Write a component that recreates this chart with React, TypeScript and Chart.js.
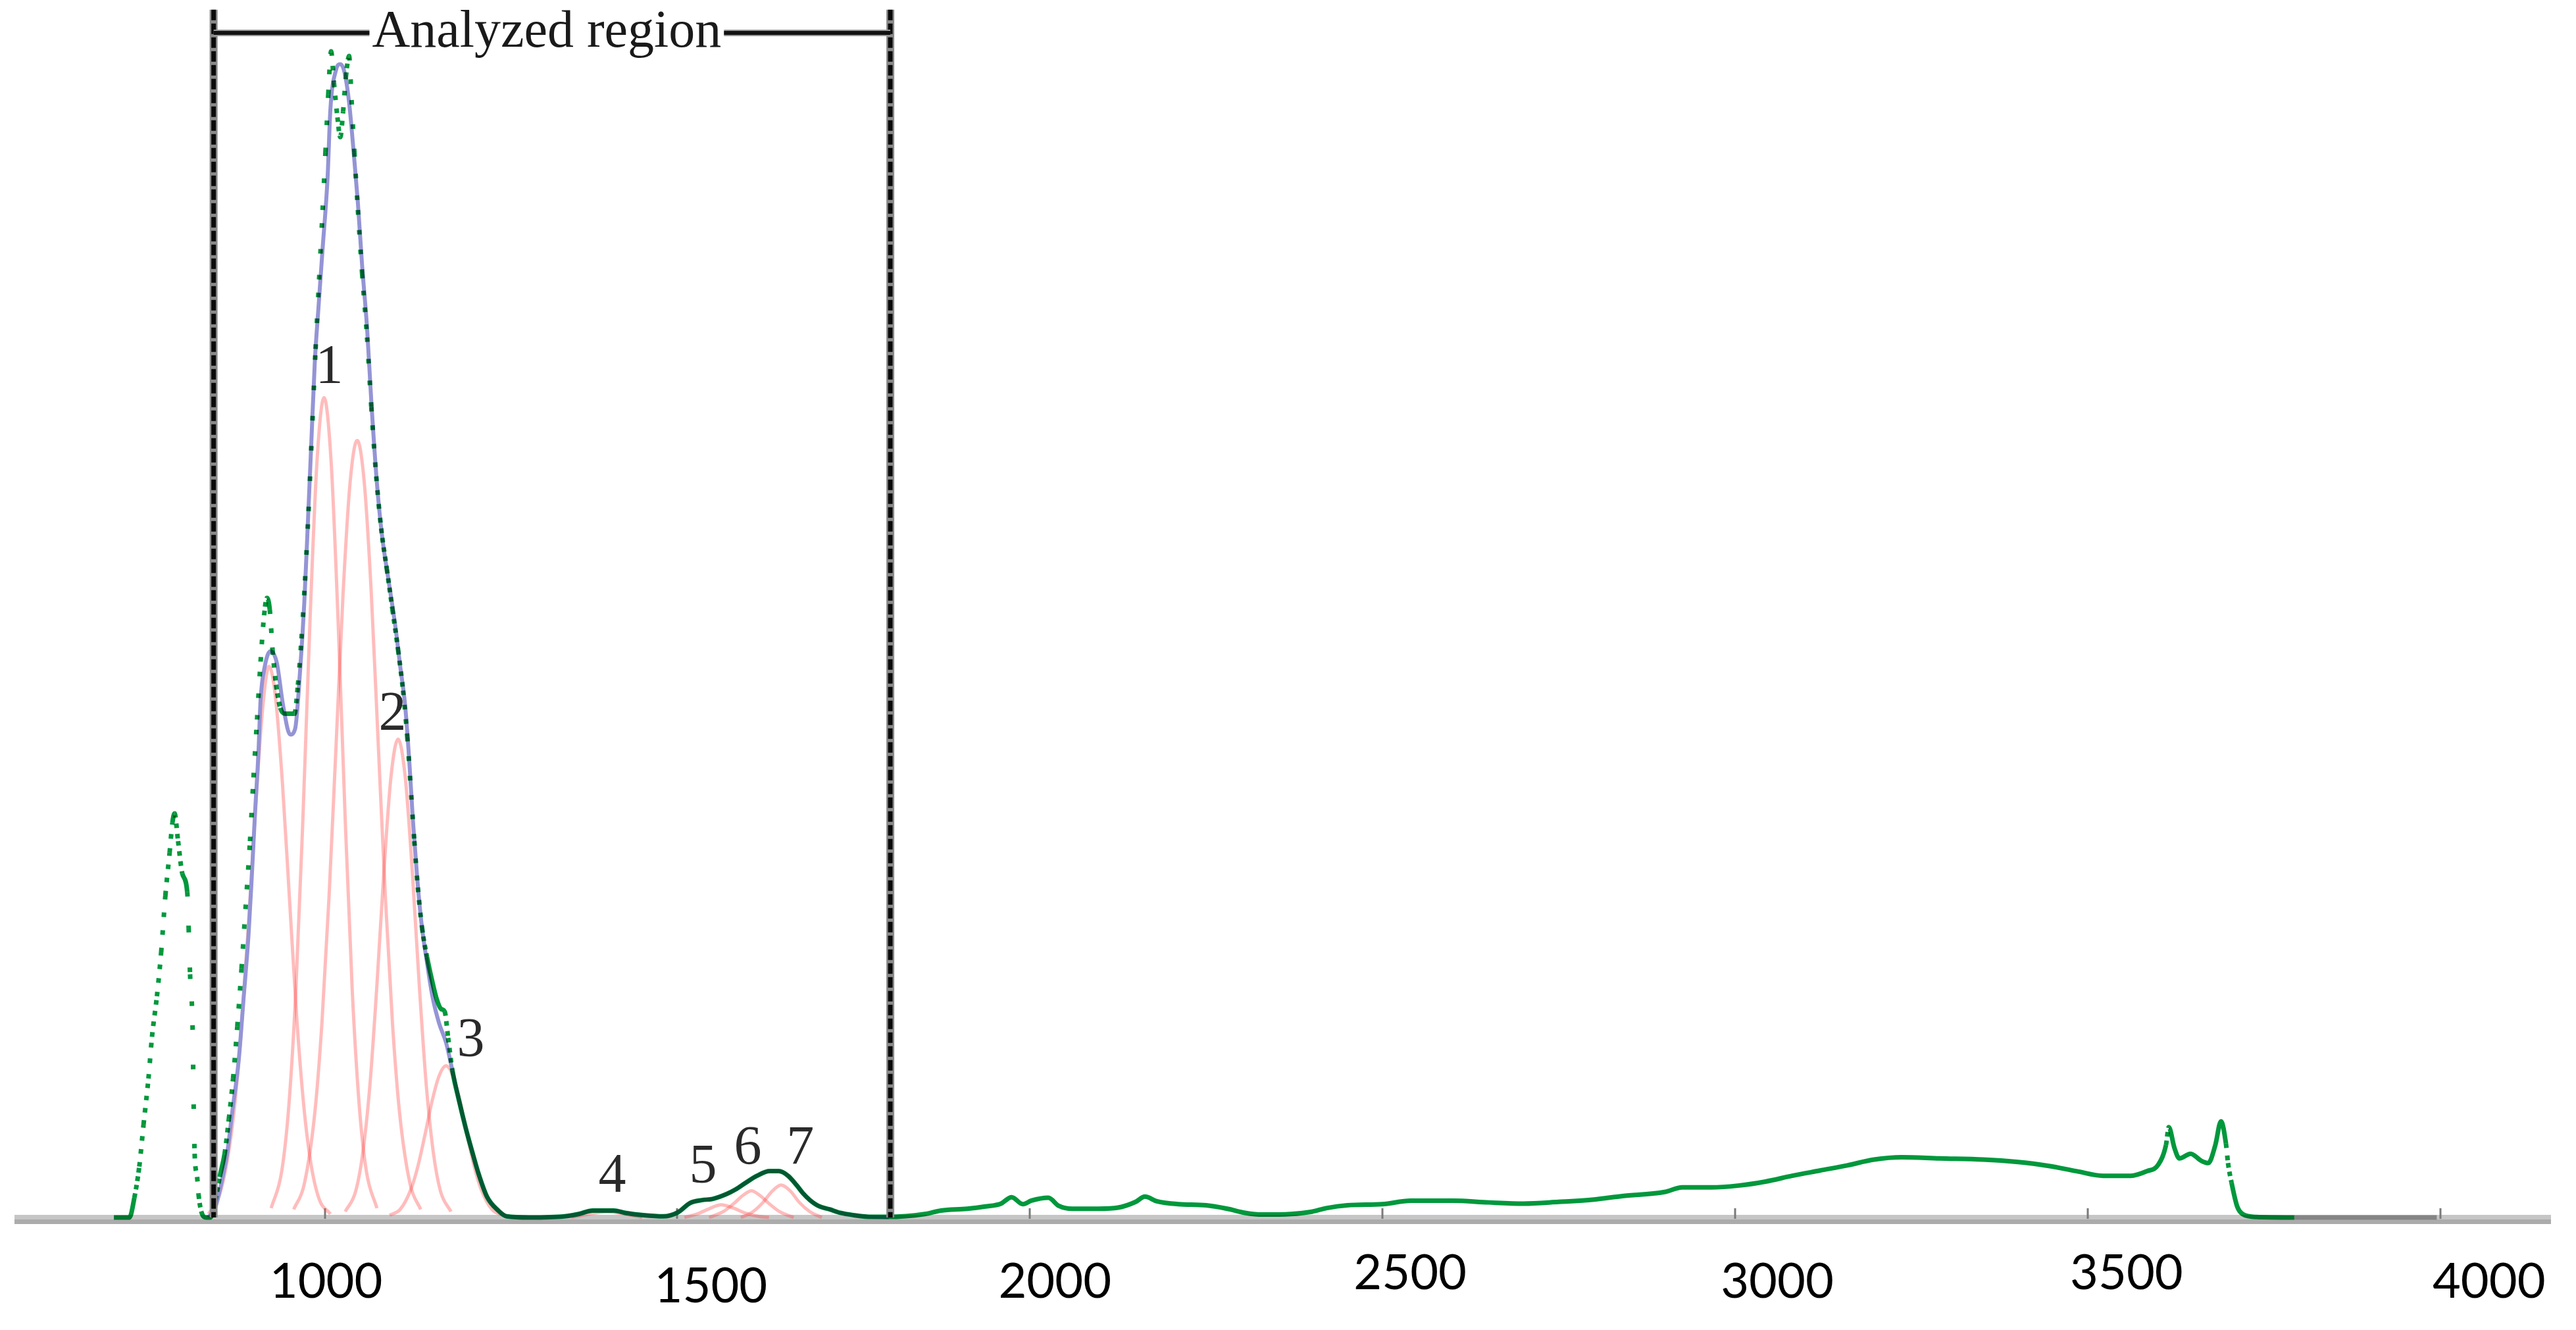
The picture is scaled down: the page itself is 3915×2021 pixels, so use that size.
import React, { useEffect, useRef } from 'react';
import { Chart, registerables } from 'chart.js';

Chart.register(...registerables);

type Pt = [number, number];

// ---------- data (x = wavenumber-like axis, y = relative intensity) ----------
const xTickValues: number[] = [1000, 1500, 2000, 2500, 3000, 3500, 4000];
const xTickLabels: string[] = ['1000', '1500', '2000', '2500', '3000', '3500', '4000'];

// measured spectrum (green points)
const measuredSpectrum: Pt[] = [
  [701, 0], [723, 0], [730, 1.7], [737, 4.4], [743, 8.0], [750, 12.0], [755, 15.6], [762, 19.1],
  [768, 22.9], [774, 27.8], [780, 31.5], [784, 34.1], [787, 34.9], [792, 32.5], [798, 29.7],
  [805, 28.1], [807, 25], [809, 21], [812.5, 16.6], [814.4, 8.5], [815.5, 5.5], [819, 3.5],
  [821, 2.0], [825, 0.5], [832, 0],
  [838, 0], [845, 1.5], [851, 3.5], [858, 5.5], [864, 8.5], [870, 12], [876, 16.5], [882, 21.5],
  [888, 27], [894, 32.5], [899, 38], [904, 43], [909, 48], [914, 52], [918, 53.5], [922, 52.5],
  [926, 49], [931, 46], [937, 44], [944, 43.5], [951, 43.5], [957, 43.5], [962, 46], [967, 50],
  [972, 55], [977, 61], [982, 68], [987, 75], [992, 81], [997, 87], [1001, 92], [1005, 97],
  [1009, 100.7], [1013, 98], [1018, 95], [1022, 93.3], [1026, 95.5], [1030, 98.5], [1034.5, 100.3],
  [1038, 96.5], [1042, 92], [1047, 87], [1053, 81.5], [1060, 76], [1066, 70], [1073, 64],
  [1080, 59.5], [1088, 56], [1096, 52.5], [1104, 49], [1111, 45.5], [1117, 41.5], [1122, 37],
  [1127, 32.5], [1132, 28.5], [1138, 25], [1145, 22.5], [1152, 20.5], [1159, 18.8], [1165, 18],
  [1170, 17.8], [1175, 15.5], [1181, 12.7], [1190, 10.2], [1200, 7.7], [1209, 5.7], [1218, 3.8],
  [1230, 1.8], [1246, 0.6], [1258, 0.1], [1290, 0], [1340, 0.1], [1360, 0.3], [1380, 0.6],
  [1410, 0.6], [1426, 0.4], [1452, 0.2], [1480, 0.1], [1501, 0.45], [1518, 1.25], [1535, 1.5],
  [1550, 1.6], [1569, 2.0], [1582, 2.4], [1597, 3.0], [1613, 3.6], [1631, 4.0], [1644, 4.0],
  [1657, 3.6], [1669, 2.8], [1678, 2.1], [1688, 1.5], [1700, 1.0], [1716, 0.7], [1731, 0.4],
  [1750, 0.2], [1775, 0.05], [1799, 0.05],
  [1851, 0.3], [1874, 0.6], [1911, 0.75], [1937, 0.95], [1959, 1.2], [1974, 1.75], [1990, 1.15],
  [2002, 1.45], [2026, 1.7], [2041, 1.0], [2060, 0.75], [2097, 0.75], [2125, 0.85], [2150, 1.35],
  [2163, 1.8], [2180, 1.4], [2210, 1.15], [2250, 1.05], [2280, 0.75], [2305, 0.4], [2330, 0.25],
  [2370, 0.3], [2400, 0.5], [2420, 0.8], [2450, 1.05], [2500, 1.15], [2540, 1.45], [2600, 1.45],
  [2650, 1.3], [2700, 1.2], [2750, 1.35], [2800, 1.55], [2840, 1.85], [2900, 2.2], [2925, 2.6],
  [2966, 2.6], [3004, 2.75], [3043, 3.1], [3081, 3.6], [3120, 4.05], [3159, 4.5], [3197, 5.0],
  [3236, 5.2], [3290, 5.1], [3352, 5.0], [3399, 4.8], [3445, 4.45], [3484, 4.0], [3522, 3.6],
  [3561, 3.6], [3584, 4.0], [3600, 4.55], [3611, 6.25], [3615, 7.8], [3623, 6.0], [3630, 5.1],
  [3646, 5.5], [3661, 4.9], [3671, 4.7], [3681, 6.25], [3689, 8.3], [3696, 6.4], [3699, 4.7],
  [3704, 3.0], [3712, 0.95], [3720, 0.28], [3739, 0.04], [3793, 0],
];

// flat tail of the record after the spectrum ends
const baselineTail: Pt[] = [[3793, 0], [3995, 0]];

// fitted envelope (sum of components)
const fittedEnvelope: Pt[] = [
  [835, 0], [845, 0.9], [851, 2.3], [857, 4], [862, 5.7], [869, 9.2], [878, 13.6], [885, 19],
  [892, 24.5], [896.5, 29.4], [901, 34.8], [906, 40.2], [909, 44.7], [915, 47.6], [923, 48.9],
  [932, 47.9], [941, 44.2], [951, 41.7], [958, 42.2], [965, 47.2], [971, 53.1], [976, 59.9],
  [981, 67], [986, 74], [991, 78.5], [997, 83.7], [1004, 89.8], [1008, 95.7], [1016, 99.1],
  [1022, 99.6], [1028, 98.9], [1034.5, 96.3], [1041, 92], [1047, 87.6], [1053, 82.2], [1060, 76.8],
  [1066, 70.5], [1074, 63.4], [1081, 59], [1090.5, 55], [1100, 51.1], [1107, 47.6], [1114, 44.2],
  [1120, 39.3], [1125, 34.3], [1131, 29.4], [1137, 25.5], [1145, 22], [1153, 19], [1162, 16.8],
  [1172, 15.1], [1181, 12.7], [1190, 10.2], [1200, 7.7], [1209, 5.7], [1218, 3.8], [1230, 1.8],
  [1246, 0.6], [1258, 0.1], [1290, 0], [1340, 0.1], [1360, 0.3], [1380, 0.6], [1410, 0.6],
  [1426, 0.4], [1452, 0.2], [1480, 0.1], [1501, 0.45], [1518, 1.25], [1535, 1.5], [1550, 1.6],
  [1569, 2.0], [1582, 2.4], [1597, 3.0], [1613, 3.6], [1631, 4.0], [1644, 4.0], [1657, 3.6],
  [1669, 2.8], [1678, 2.1], [1688, 1.5], [1700, 1.0], [1716, 0.7], [1731, 0.4], [1750, 0.2],
  [1775, 0.05], [1800, 0],
];

// fitted components (red)
const componentShoulder: Pt[] = [
  [835, 0.3], [850, 1.8], [862, 5.0], [872, 9.5], [882, 16.5], [892, 25.5], [902, 35.5], [912, 44],
  [921, 47.6], [930, 45], [940, 37.5], [950, 27.5], [960, 17.5], [970, 9.8], [980, 4.8], [992, 1.6],
  [1008, 0.3],
];
const component1: Pt[] = [
  [924, 0.8], [939, 4.0], [949, 9.6], [959, 19.6], [969, 34.4], [979, 51.4], [989, 65.3], [999, 70.8],
  [1009, 65.3], [1019, 51.4], [1029, 34.4], [1039, 19.6], [1049, 9.6], [1059, 4.0], [1074, 0.8],
];
const componentMain: Pt[] = [
  [956, 0.7], [971, 2.9], [986, 9.1], [996, 16.8], [1006, 27.6], [1016, 40.7], [1026, 53.9],
  [1036, 63.5], [1046, 67.1], [1056, 63.5], [1066, 53.9], [1076, 40.7], [1086, 27.6], [1096, 16.8],
  [1106, 9.1], [1121, 2.9], [1136, 0.7],
];
const component2: Pt[] = [
  [1029, 0.5], [1044, 2.3], [1054, 5.6], [1064, 11.4], [1074, 20.1], [1084, 30], [1094, 38.1],
  [1104, 41.3], [1114, 38.1], [1124, 30], [1134, 20.1], [1144, 11.4], [1154, 5.6], [1164, 2.3],
  [1179, 0.5],
];
const component3: Pt[] = [
  [1092, 0.2], [1107, 0.7], [1122, 2.4], [1132, 4.4], [1142, 7.1], [1152, 10], [1162, 12.2],
  [1172, 13.1], [1182, 12.2], [1192, 10], [1202, 7.1], [1212, 4.4], [1222, 2.4], [1237, 0.7],
  [1252, 0.2],
];
const component4: Pt[] = [[1350, 0], [1375, 0.3], [1400, 0.5], [1425, 0.3], [1450, 0]];
const component5: Pt[] = [
  [1510, 0], [1530, 0.35], [1545, 0.75], [1562, 1.1], [1580, 0.8], [1595, 0.4], [1615, 0.1], [1630, 0],
];
const component6: Pt[] = [
  [1545, 0], [1565, 0.5], [1580, 1.2], [1593, 1.9], [1605, 2.3], [1617, 1.9], [1630, 1.2], [1645, 0.5],
  [1665, 0],
];
const component7: Pt[] = [
  [1590, 0], [1605, 0.4], [1620, 1.2], [1635, 2.3], [1647, 2.8], [1660, 2.3], [1673, 1.3], [1688, 0.5],
  [1705, 0],
];

// annotations
const peakLabelText: string[] = ['1', '2', '3', '4', '5', '6', '7'];
const peakLabelX: number[] = [1006.5, 1096, 1207, 1407.6, 1536.4, 1599.8, 1674.4];
const peakLabelY: number[] = [73.3, 43.35, 15.2, 3.47, 4.26, 5.85, 5.85];
const analyzedRegion: number[] = [842.4, 1802];
const regionTitle = 'Analyzed region';
const bracketY = 102.3;
const bracketTopY = 104.3;

// ---------- layout / style ----------
const W = 3915;
const H = 2021;
const X_MIN = 560;
const X_MAX = 4157;
const Y_MAX = 104;
const tickLabelNudge = [
  { dx: 2, dy: 0 }, { dx: 51, dy: 7 }, { dx: 38, dy: 0 }, { dx: 42, dy: -13 },
  { dx: 64, dy: 0 }, { dx: 59, dy: -13 }, { dx: 74, dy: 0 },
];

const toXY = (pts: Pt[]) => pts.map(([x, y]) => ({ x, y }));

const line = (pts: Pt[], color: string, width: number, order: number, extra: any = {}) => ({
  data: toXY(pts),
  borderColor: color,
  backgroundColor: color,
  borderWidth: width,
  pointRadius: 0,
  pointHoverRadius: 0,
  fill: false,
  cubicInterpolationMode: 'monotone',
  clip: false,
  order,
  ...extra,
});

const RED = 'rgba(255, 70, 70, 0.36)';

const decorPlugin = {
  id: 'decor',
  beforeDraw(chart: any) {
    const { ctx, width, height } = chart;
    ctx.save();
    ctx.fillStyle = '#ffffff';
    ctx.fillRect(0, 0, width, height);
    ctx.restore();
  },
  beforeDatasetsDraw(chart: any) {
    const { ctx, chartArea, scales } = chart;
    const x = scales.x;
    const y = scales.y;
    const y0 = y.getPixelForValue(0);
    ctx.save();
    ctx.fillStyle = '#c6c6c6';
    ctx.fillRect(chartArea.left, y0 - 4, chartArea.right - chartArea.left, 7);
    ctx.fillStyle = '#ababab';
    ctx.fillRect(chartArea.left, y0 + 3, chartArea.right - chartArea.left, 7);
    ctx.strokeStyle = '#7a7a7a';
    ctx.lineWidth = 3;
    for (const v of xTickValues) {
      const px = Math.round(x.getPixelForValue(v));
      ctx.beginPath();
      ctx.moveTo(px, y0 - 14);
      ctx.lineTo(px, y0 + 2);
      ctx.stroke();
    }
    ctx.restore();
  },
  beforeDatasetDraw(chart: any, args: any) {
    const ds = chart.data.datasets[args.index];
    if (ds && ds.isMeasured) {
      chart.ctx.save();
      chart.ctx.globalCompositeOperation = 'multiply';
    }
  },
  afterDatasetDraw(chart: any, args: any) {
    const ds = chart.data.datasets[args.index];
    if (ds && ds.isMeasured) {
      chart.ctx.restore();
    }
  },
  afterDatasetsDraw(chart: any) {
    const { ctx, scales } = chart;
    const x = scales.x;
    const y = scales.y;
    const y0 = y.getPixelForValue(0);
    const top = y.getPixelForValue(bracketTopY);
    const by = y.getPixelForValue(bracketY);
    const lx = x.getPixelForValue(analyzedRegion[0]);
    const rx = x.getPixelForValue(analyzedRegion[1]);
    ctx.save();

    // vertical region lines
    for (const px of [lx, rx]) {
      ctx.strokeStyle = '#8a8a8a';
      ctx.lineWidth = 12;
      ctx.beginPath();
      ctx.moveTo(px, top);
      ctx.lineTo(px, y0);
      ctx.stroke();
      ctx.strokeStyle = '#0a0a0a';
      ctx.lineWidth = 7;
      ctx.setLineDash([16, 5]);
      ctx.beginPath();
      ctx.moveTo(px, top);
      ctx.lineTo(px, y0);
      ctx.stroke();
      ctx.setLineDash([]);
    }

    // title with bracket line
    ctx.font = '80px "Liberation Serif", "Times New Roman", serif';
    ctx.fillStyle = '#1a1a1a';
    ctx.textAlign = 'center';
    ctx.textBaseline = 'middle';
    const cx = (lx + rx) / 2 - 8;
    const tw = ctx.measureText(regionTitle).width;
    ctx.fillText(regionTitle, cx, by);
    ctx.strokeStyle = '#999999';
    ctx.lineWidth = 10;
    ctx.beginPath();
    ctx.moveTo(lx, by);
    ctx.lineTo(cx - tw / 2 - 4, by);
    ctx.moveTo(cx + tw / 2 + 4, by);
    ctx.lineTo(rx, by);
    ctx.stroke();
    ctx.strokeStyle = '#111111';
    ctx.lineWidth = 6;
    ctx.beginPath();
    ctx.moveTo(lx, by);
    ctx.lineTo(cx - tw / 2 - 4, by);
    ctx.moveTo(cx + tw / 2 + 4, by);
    ctx.lineTo(rx, by);
    ctx.stroke();

    // peak labels
    ctx.font = '84px "Liberation Serif", "Times New Roman", serif';
    ctx.fillStyle = '#2a2a2a';
    peakLabelText.forEach((t, i) => {
      ctx.fillText(t, x.getPixelForValue(peakLabelX[i]), y.getPixelForValue(peakLabelY[i]));
    });

    // x tick labels
    ctx.font = '74px Lato, "Liberation Sans", sans-serif';
    ctx.fillStyle = '#000000';
    xTickValues.forEach((v, i) => {
      const n = tickLabelNudge[i] || { dx: 0, dy: 0 };
      ctx.fillText(xTickLabels[i], x.getPixelForValue(v) + n.dx, y0 + 98 + n.dy);
    });
    ctx.restore();
  },
};

export default function App() {
  const ref = useRef<HTMLCanvasElement | null>(null);

  useEffect(() => {
    document.body.style.margin = '0';
    document.body.style.overflow = 'hidden';
    const canvas = ref.current;
    if (!canvas) return;

    const measuredDs: any = line(measuredSpectrum, '#00983c', 7, 0, {
      isMeasured: true,
      borderCapStyle: 'butt',
      segment: {
        borderDash: (c: any) => {
          const dx = Math.abs(c.p1.x - c.p0.x);
          const dy = Math.abs(c.p1.y - c.p0.y);
          const slope = dy / Math.max(dx, 0.2);
          if (slope < 5) return undefined;
          const spacing = Math.min(Math.max(slope * 2.0, 13), 60);
          return [7, spacing - 7];
        },
      },
    });

    const chart = new Chart(canvas, {
      type: 'line',
      data: {
        datasets: [
          measuredDs,
          line(baselineTail, '#858585', 7, 1),
          line(fittedEnvelope, '#9494d6', 6, 2),
          line(componentShoulder, RED, 5, 3),
          line(component1, RED, 5, 3),
          line(componentMain, RED, 5, 3),
          line(component2, RED, 5, 3),
          line(component3, RED, 5, 3),
          line(component4, RED, 5, 3),
          line(component5, RED, 5, 3),
          line(component6, RED, 5, 3),
          line(component7, RED, 5, 3),
        ],
      },
      options: {
        animation: false,
        responsive: false,
        maintainAspectRatio: false,
        devicePixelRatio: 1,
        events: [],
        layout: { padding: { left: 22, right: 38, top: 20, bottom: 171 } },
        scales: {
          x: { type: 'linear', min: X_MIN, max: X_MAX, display: false },
          y: { type: 'linear', min: 0, max: Y_MAX, display: false },
        },
        plugins: {
          legend: { display: false },
          tooltip: { enabled: false },
          title: { display: false },
        },
      } as any,
      plugins: [decorPlugin as any],
    });

    return () => chart.destroy();
  }, []);

  return (
    <div style={{ width: W, height: H, background: '#fff' }}>
      <canvas ref={ref} width={W} height={H} style={{ display: 'block', width: W, height: H }} />
    </div>
  );
}
